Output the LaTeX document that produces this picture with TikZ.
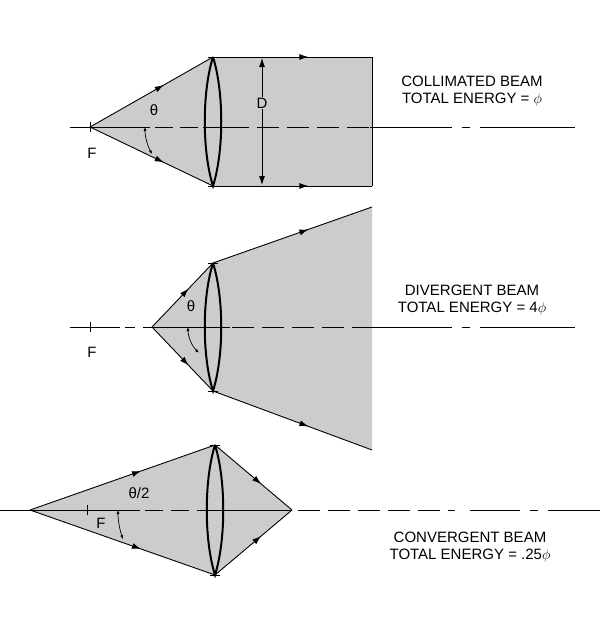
\documentclass[tikz,border=0pt]{standalone}
\usepackage{fontspec}
\setmainfont{Liberation Sans}
\usetikzlibrary{decorations.markings,arrows.meta}
\begin{document}
\begin{tikzpicture}[x=1pt,y=-1pt,
  ray/.style={line width=0.9pt,postaction={decorate},decoration={markings,mark=at position 0.6 with {\arrow{Latex[length=9pt,width=6pt]}}}},
  lens/.style={line width=2pt},
  beam/.style={fill=black!20},
  axis/.style={line width=0.7pt},
  lbl/.style={font=\fontsize{15}{17}\selectfont,align=center},
  dimarr/.style={line width=0.8pt,{Latex[length=9pt,width=6pt]}-{Latex[length=9pt,width=6pt]}},
  angarr/.style={line width=0.7pt,{Latex[length=4pt,width=3pt]}-{Latex[length=4pt,width=3pt]}}]
\useasboundingbox (0,0) rectangle (600,621);
\newcommand{\lensat}[3]{%
  \draw[lens] (#1,#2) .. controls (#1+11,#2+35) and (#1+11,#3-35) .. (#1,#3)
     .. controls (#1-11,#3-35) and (#1-11,#2+35) .. (#1,#2);
  \draw[line width=1pt] (#1-5,#2) -- (#1+5,#2) (#1-5,#3) -- (#1+5,#3);}
% ---------- collimated
\coordinate (F1) at (90,127);
\coordinate (L1t) at (213,57); \coordinate (L1b) at (213,186);
\coordinate (B1t) at (372,57); \coordinate (B1b) at (372,186);
\fill[beam] (F1) -- (L1t) -- (B1t) -- (B1b) -- (L1b) -- cycle;
\draw[axis] (70,127) -- (150,127);
\draw[axis,dash pattern=on 18pt off 7pt] (155,127) -- (205,127);
\draw[axis] (203,127) -- (227,127);
\draw[axis,dash pattern=on 22pt off 8pt] (227,127) -- (370,127);
\draw[axis] (370,127) -- (452,127);
\draw[axis] (462,127) -- (470,127);
\draw[axis] (480,127) -- (575,127);
\draw[line width=0.8pt] (90,122) -- (90,132);
\draw[ray] (F1) -- (L1t);
\draw[ray] (F1) -- (L1b);
\draw[ray] (L1t) -- (B1t);
\draw[ray] (L1b) -- (B1b);
\draw[line width=0.9pt] (B1t) -- (B1b);
\lensat{213}{57}{186}
\draw[dimarr] (262,58) -- (262,185);
\node[lbl,fill=black!20,inner sep=1pt] (D) at (262,103) {D};
\draw[angarr] (90:0) ++(90,127) ++(0:55) arc[start angle=0,end angle=-29.6,radius=-55];
\node[lbl] (th1) at (154,110) {θ};
\node[lbl] (F1l) at (92,153) {F};
\node[lbl] (t1) at (472,91) {COLLIMATED BEAM\\TOTAL ENERGY = $\phi$};
% ---------- divergent
\coordinate (A2) at (152,327);
\coordinate (L2t) at (213,263); \coordinate (L2b) at (213,391);
\coordinate (B2t) at (372,207); \coordinate (B2b) at (372,450);
\fill[beam] (A2) -- (L2t) -- (B2t) -- (B2b) -- (L2b) -- cycle;
\draw[axis] (70,327) -- (120,327);
\draw[axis,dash pattern=on 10pt off 8pt] (125,327) -- (152,327);
\draw[axis] (152,327) -- (230,327);
\draw[axis,dash pattern=on 22pt off 8pt] (232,327) -- (372,327);
\draw[axis] (372,327) -- (452,327);
\draw[axis] (462,327) -- (470,327);
\draw[axis] (480,327) -- (575,327);
\draw[line width=0.8pt] (90,322) -- (90,332);
\draw[ray] (A2) -- (L2t);
\draw[ray] (A2) -- (L2b);
\draw[ray] (L2t) -- (B2t);
\draw[ray] (L2b) -- (B2b);
\lensat{213}{263}{391}
\draw[angarr] (152,327) ++(0:36) arc[start angle=0,end angle=-46,radius=-36];
\node[lbl] (th2) at (191,306) {θ};
\node[lbl] (F2l) at (92,352) {F};
\node[lbl] (t2) at (472,300) {DIVERGENT BEAM\\TOTAL ENERGY = 4$\phi$};
% ---------- convergent
\coordinate (A3) at (30,510);
\coordinate (L3t) at (215,445); \coordinate (L3b) at (215,575);
\coordinate (C3) at (292,510);
\fill[beam] (A3) -- (L3t) -- (C3) -- (L3b) -- cycle;
\draw[axis] (0,510) -- (140,510);
\draw[axis,dash pattern=on 18pt off 8pt] (145,510) -- (205,510);
\draw[axis] (205,510) -- (292,510);
\draw[axis,dash pattern=on 22pt off 8pt] (298,510) -- (455,510);
\draw[axis] (470,510) -- (520,510);
\draw[axis] (530,510) -- (538,510);
\draw[axis] (548,510) -- (600,510);
\draw[line width=0.8pt] (87,505) -- (87,515);
\draw[ray] (A3) -- (L3t);
\draw[ray] (A3) -- (L3b);
\draw[ray] (L3t) -- (C3);
\draw[ray] (L3b) -- (C3);
\lensat{215}{445}{575}
\draw[angarr] (30,510) ++(0:88) arc[start angle=0,end angle=-19.4,radius=-88];
\node[lbl] (th3) at (139,493) {θ/2};
\node[lbl] (F3l) at (101,523) {F};
\node[lbl] (t3) at (470,547) {CONVERGENT BEAM\\TOTAL ENERGY = .25$\phi$};
\end{tikzpicture}
\end{document}
